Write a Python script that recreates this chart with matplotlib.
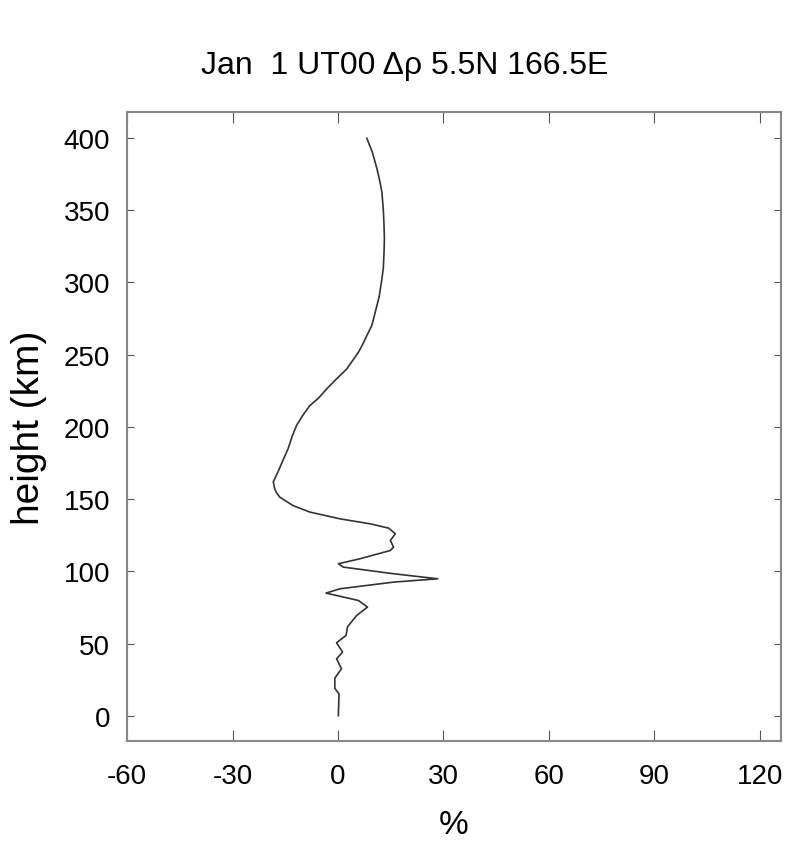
import numpy as np
import matplotlib.pyplot as plt

plt.rcParams['font.family'] = ['Liberation Sans Narrow', 'Liberation Sans', 'DejaVu Sans']
plt.rcParams['axes.unicode_minus'] = False

# density perturbation profile (percent) vs height (km)
height = [0, 15, 19, 26, 32.5, 39.4, 44, 50.5, 55.6, 61.5, 69.4, 75.2, 79.8,
          84.9, 87.9, 92.5, 94.8, 98.3, 102.9, 105.2, 108.7, 114.4, 116.7,
          121.3, 126, 129.9, 132.9, 136.3, 141, 145.5, 151.4, 155, 157.1, 162,
          168.6, 176, 184.8, 193, 200.9, 208, 214.7, 220, 226.3, 233, 240.1,
          246, 251.6, 257, 263.2, 270, 279.4, 290, 302.4, 310, 321, 330,
          339.3, 350, 362.4, 370, 378.5, 390, 399.8]
drho = [0.1, 0.3, -0.9, -0.9, 1.0, -0.4, 1.3, -0.4, 2.3, 2.7, 5.3, 8.4, 5.8,
        -3.4, 0.6, 15.8, 28.4, 15.8, 1.5, 0.1, 6.3, 14.9, 15.8,
        14.9, 16.3, 14.4, 9.1, 0.6, -8.0, -12.8, -16.6, -17.6, -18.0, -18.4,
        -17.1, -15.8, -14.2, -13.1, -11.8, -10.0, -8.0, -5.5, -3.2, -0.5, 2.5,
        4.2, 5.8, 7.0, 8.2, 9.6, 10.6, 11.7, 12.5, 12.9, 13.1, 13.2,
        13.1, 12.9, 12.5, 11.9, 11.1, 9.8, 8.2]

xticks = [-60, -30, 0, 30, 60, 90, 120]
yticks = [0, 50, 100, 150, 200, 250, 300, 350, 400]

fig = plt.figure(figsize=(7.88, 8.45), dpi=100)
ax = fig.add_axes([0.1612, 0.1219, 0.8299, 0.7444])

ax.plot(drho, height, color='#333333', lw=1.2)

ax.set_xlim(-60, 126)
ax.set_ylim(-17.5, 418)
ax.set_xticks(xticks)
ax.set_yticks(yticks)
ax.tick_params(axis='both', direction='in', top=True, right=True,
               labelsize=20, color='#555555')
ax.tick_params(axis='x', length=8, pad=16)
ax.tick_params(axis='y', length=5, pad=12)
for s in ax.spines.values():
    s.set_color('#888888')
    s.set_linewidth(1.5)

# title sits a bit left of the axes centre in the original
fig.text(0.514, 0.922, 'Jan  1 UT00 \u0394\u03c1 5.5N 166.5E', fontsize=23,
         ha='center', va='center')
ax.set_xlabel('%', fontsize=24, labelpad=14)
ax.set_ylabel('height (km)', fontsize=28, labelpad=12)

fig.savefig('out.png', dpi=100)
